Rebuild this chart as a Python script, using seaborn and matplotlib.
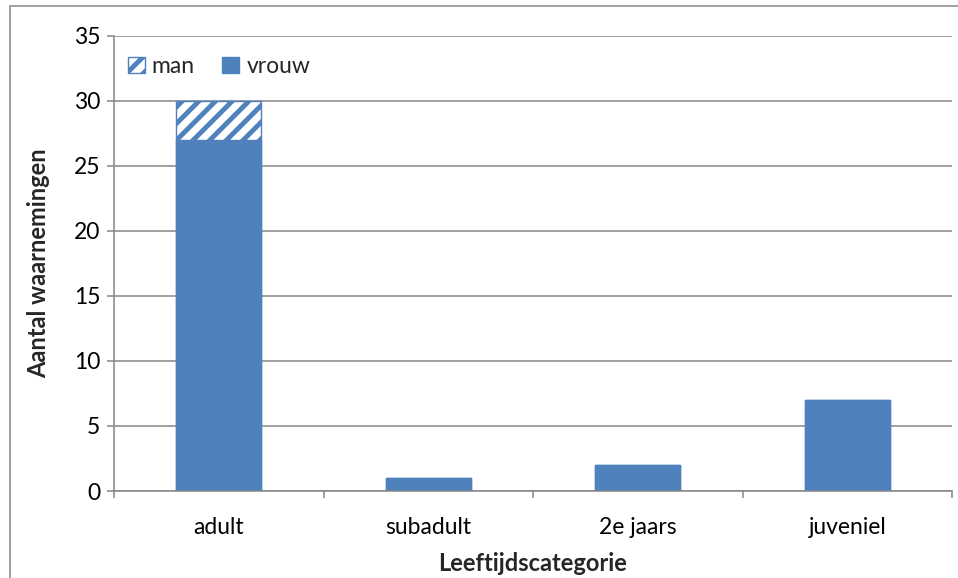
import matplotlib
matplotlib.use("Agg")
import matplotlib.pyplot as plt
import seaborn as sns
import pandas as pd
from matplotlib.patches import Patch, Rectangle

# data
categories = ["adult", "subadult", "2e jaars", "juveniel"]
vrouw = [27, 1, 2, 7]
man = [3, 0, 0, 0]

blue = "#4F81BD"
grey = "#868686"

sns.set_theme(style="white")
plt.rcParams["font.family"] = ["Lato", "DejaVu Sans"]
plt.rcParams["hatch.color"] = blue
plt.rcParams["hatch.linewidth"] = 3.5

df = pd.DataFrame({"cat": categories, "vrouw": vrouw,
                   "totaal": [v + m for v, m in zip(vrouw, man)]})

fig = plt.figure(figsize=(9.58, 5.78), dpi=100)
ax = fig.add_axes([114 / 958, 1 - 491 / 578, (952 - 114) / 958, (491 - 35.5) / 578])

# man on top (hatched), vrouw below (solid)
sns.barplot(data=df, x="cat", y="totaal", ax=ax, color="white", edgecolor=blue,
            hatch="//", linewidth=1, width=0.405, saturation=1, errorbar=None)
sns.barplot(data=df, x="cat", y="vrouw", ax=ax, color=blue, edgecolor=blue,
            linewidth=1, width=0.405, saturation=1, errorbar=None)

ax.set_ylim(0, 35)
ax.set_xlim(-0.5, len(categories) - 0.5)
ax.set_yticks(range(0, 36, 5))
ax.yaxis.grid(True, color=grey, linewidth=1.1)
ax.set_axisbelow(True)

for s in ["top", "right"]:
    ax.spines[s].set_visible(False)
for s in ["left", "bottom"]:
    ax.spines[s].set_color(grey)
    ax.spines[s].set_linewidth(1.1)

fs = 16.5
ax.tick_params(axis="y", which="major", left=True, length=5, width=1.1, color=grey,
               labelsize=fs, pad=5, labelcolor="black")
ax.set_xticks([i - 0.5 for i in range(len(categories) + 1)], minor=True)
ax.tick_params(axis="x", which="minor", bottom=True, length=5, width=1.1, color=grey)
ax.tick_params(axis="x", which="major", bottom=False, length=0, labelsize=fs, pad=19,
               labelcolor="black")

ax.set_xlabel("Leeftijdscategorie", fontsize=17, fontweight="bold", labelpad=10)
ax.set_ylabel("Aantal waarnemingen", fontsize=17, fontweight="bold", labelpad=17)

handles = [Patch(facecolor="white", edgecolor=blue, hatch="//", label="man"),
           Patch(facecolor=blue, edgecolor=blue, label="vrouw")]
ax.legend(handles=handles, loc="upper left", bbox_to_anchor=(-0.003, 0.99), ncol=2,
          frameon=False, fontsize=fs, handlelength=0.75, handleheight=0.75,
          handletextpad=0.3, columnspacing=1.2, borderaxespad=0.3)

# outer chart border
fig.patches.append(Rectangle((10 / 958, -0.1), 1.2, 1 - 6 / 578 + 0.1,
                             transform=fig.transFigure, fill=False,
                             edgecolor=grey, linewidth=1.1))

fig.savefig("out.png", dpi=100)
